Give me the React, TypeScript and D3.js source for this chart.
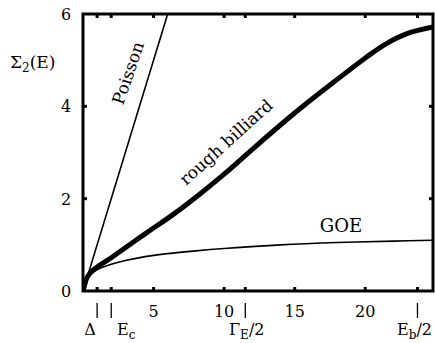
import React from 'react';
import * as d3 from 'd3';

// values
const poisson: [number, number][] = [[0, 0], [6, 6]];

const goe: [number, number][] = [
  [0, 0], [0.15, 0.15], [0.3, 0.26], [0.5, 0.34], [0.8, 0.42], [1.2, 0.49],
  [2, 0.58], [3, 0.66], [4.5, 0.75], [6, 0.81], [8, 0.87], [10, 0.92],
  [14, 1.0], [18, 1.05], [22, 1.08], [24.8, 1.1],
];

const rough: [number, number][] = [
  [0, 0], [0.15, 0.17], [0.3, 0.3], [0.7, 0.45], [1.2, 0.56], [2, 0.72],
  [2.6, 0.85], [4.5, 1.26], [6.4, 1.66], [8.2, 2.08], [10, 2.53],
  [12.3, 3.15], [14.7, 3.78], [15.5, 3.98], [17.75, 4.52], [20.1, 5.07],
  [21.5, 5.36], [23, 5.58], [24.8, 5.72],
];

const xTickLabels = [5, 10, 15, 20];
const yTickLabels = [0, 2, 4, 6];
const xTickMarks = [1, 2, 5, 10, 11.5, 15, 20, 23.7];
const yTickMarks = [2, 4];
const markerPos = [1, 2, 11.5, 23.7];

const W = 435;
const H = 343;
// only DejaVu Serif resolves to a serif face here
const FONT = 'DejaVu Serif';

export default function App() {
  const x = d3.scaleLinear().domain([0, 24.8]).range([83, 433]);
  const y = d3.scaleLinear().domain([0, 6]).range([291, 14]);

  const line = d3.line<[number, number]>()
    .x(d => x(d[0]))
    .y(d => y(d[1]))
    .curve(d3.curveCatmullRom.alpha(0.5));

  const [x0, x1] = x.range();
  const [y0, y1] = y.range();

  return (
    <svg width={W} height={H} fontFamily={FONT}
      style={{ position: 'absolute', left: 0, top: 0, background: '#fff' }}>
      <defs>
        <clipPath id="plot">
          <rect x={x0} y={y1} width={x1 - x0} height={y0 - y1} />
        </clipPath>
      </defs>

      {/* curves */}
      <g clipPath="url(#plot)" fill="none" stroke="#000" strokeLinejoin="round" strokeLinecap="round">
        <path d={line(poisson) ?? ''} strokeWidth={1.6} />
        <path d={line(goe) ?? ''} strokeWidth={1.6} />
        <path d={line(rough) ?? ''} strokeWidth={5} />
      </g>

      {/* frame */}
      <rect x={x0} y={y1} width={x1 - x0} height={y0 - y1} fill="none" stroke="#000" strokeWidth={3} />

      {/* inward ticks */}
      <g stroke="#000" strokeWidth={3}>
        {xTickMarks.map(t => (
          <g key={'x' + t}>
            <line x1={x(t)} x2={x(t)} y1={y0} y2={y0 - 4} />
            <line x1={x(t)} x2={x(t)} y1={y1} y2={y1 + 4} />
          </g>
        ))}
        {yTickMarks.map(t => (
          <g key={'y' + t}>
            <line x1={x0} x2={x0 + 4} y1={y(t)} y2={y(t)} />
            <line x1={x1} x2={x1 - 4} y1={y(t)} y2={y(t)} />
          </g>
        ))}
      </g>

      {/* tick labels */}
      <g fontSize={16} fill="#000">
        {xTickLabels.map(t => (
          <text key={t} x={x(t)} y={317} textAnchor="middle">{t}</text>
        ))}
        {yTickLabels.map(t => (
          <text key={t} x={66} y={y(t) + 6} textAnchor="middle">{t}</text>
        ))}
      </g>

      {/* energy scale markers */}
      <g stroke="#000" strokeWidth={1.3}>
        {markerPos.map(p => (
          <line key={p} x1={x(p)} x2={x(p)} y1={303} y2={318} />
        ))}
      </g>
      <g fontSize={16} fill="#000">
        <text x={90} y={335} textAnchor="middle">Δ</text>
        <text x={117} y={335}>E<tspan fontSize={12} dy={4}>c</tspan></text>
        <text x={229} y={335}>Γ<tspan fontSize={12} dy={4}>E</tspan><tspan dy={-4}>/2</tspan></text>
        <text x={397} y={335}>E<tspan fontSize={12} dy={4}>b</tspan><tspan dy={-4}>/2</tspan></text>
      </g>

      {/* y axis title */}
      <text x={10} y={68} fontSize={17} fill="#000">
        Σ<tspan fontSize={12} dy={4}>2</tspan><tspan dy={-4}>(E)</tspan>
      </text>

      {/* curve labels */}
      <text transform="translate(128,73) rotate(-71)" fontSize={17} textAnchor="middle" dy={6}>Poisson</text>
      <text transform="translate(226,142) rotate(-42)" fontSize={17} textAnchor="middle" dy={6}>rough billiard</text>
      <text x={341} y={232} fontSize={18} textAnchor="middle">GOE</text>
    </svg>
  );
}
